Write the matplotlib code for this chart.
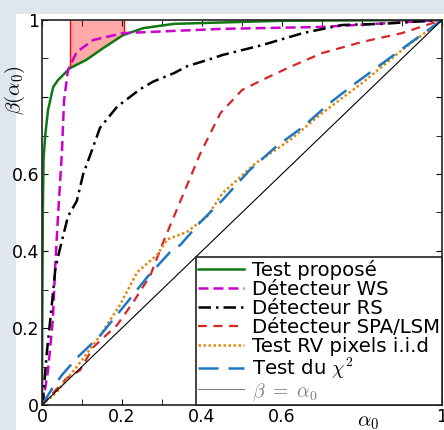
import numpy as np
import matplotlib
matplotlib.use('Agg')
import matplotlib.pyplot as plt
from matplotlib.patches import Rectangle

plt.rcParams['mathtext.fontset'] = 'cm'

# courbes ROC
x_prop = [0, 0.001, 0.002, 0.004, 0.008, 0.015, 0.028, 0.04, 0.07, 0.11, 0.153, 0.203, 0.254, 0.33, 0.43, 0.6, 1.0]
y_prop = [0, 0.3, 0.5, 0.64, 0.7, 0.766, 0.826, 0.844, 0.875, 0.896, 0.927, 0.961, 0.979, 0.99, 0.993, 0.998, 1.0]

x_ws = [0, 0.003, 0.015, 0.027, 0.033, 0.04, 0.05, 0.055, 0.065, 0.087, 0.128, 0.203, 0.45, 0.70, 1.0]
y_ws = [0, 0.01, 0.09, 0.22, 0.36, 0.49, 0.66, 0.79, 0.87, 0.917, 0.948, 0.966, 0.977, 0.982, 1.0]

x_rs = [0, 0.003, 0.012, 0.025, 0.033, 0.04, 0.053, 0.065, 0.087, 0.103, 0.125, 0.145, 0.188, 0.245, 0.278, 0.33, 0.363, 0.413, 0.451, 0.551, 0.652, 0.75, 0.85, 1.0]
y_rs = [0, 0.02, 0.135, 0.265, 0.35, 0.385, 0.44, 0.49, 0.53, 0.60, 0.662, 0.72, 0.775, 0.82, 0.84, 0.862, 0.88, 0.896, 0.909, 0.935, 0.966, 0.987, 0.99, 1.0]

x_spa = [0, 0.062, 0.095, 0.128, 0.188, 0.228, 0.271, 0.303, 0.33, 0.396, 0.446, 0.50, 0.55, 0.62, 0.70, 0.80, 0.90, 1.0]
y_spa = [0, 0.07, 0.09, 0.15, 0.208, 0.267, 0.337, 0.423, 0.49, 0.654, 0.758, 0.818, 0.844, 0.878, 0.914, 0.943, 0.966, 1.0]

x_rv = [0, 0.037, 0.095, 0.145, 0.195, 0.238, 0.288, 0.313, 0.363, 0.413, 0.451, 0.534, 0.62, 0.70, 0.80, 0.90, 1.0]
y_rv = [0, 0.034, 0.11, 0.18, 0.26, 0.345, 0.39, 0.43, 0.45, 0.49, 0.55, 0.628, 0.688, 0.758, 0.836, 0.922, 1.0]

x_chi = [0, 0.028, 0.05, 0.087, 0.145, 0.213, 0.263, 0.32, 0.346, 0.396, 0.451, 0.519, 0.584, 0.652, 0.719, 0.784, 0.852, 0.92, 1.0]
y_chi = [0, 0.047, 0.078, 0.122, 0.18, 0.267, 0.332, 0.397, 0.416, 0.475, 0.532, 0.61, 0.67, 0.722, 0.784, 0.836, 0.888, 0.94, 1.0]

zone = [0.07, 0.205]

fig = plt.figure(figsize=(4.44, 4.30), dpi=100)
fig.patch.set_facecolor('#dfe6ee')
fig.patches.append(Rectangle((16/444, 0), 1, (430-14)/430, transform=fig.transFigure,
                             facecolor='white', edgecolor='none', zorder=-1))
ax = fig.add_axes([42/444, 25/430, 400/444, 385/430])

# zone coloree entre la courbe proposee et 1
xs = np.linspace(zone[0], zone[1], 60)
ax.fill_between(xs, np.interp(xs, x_prop, y_prop), 1, color='#ff9a9a', alpha=0.85, lw=0, zorder=1)
ax.vlines(zone, np.interp(zone, x_prop, y_prop), 1, color='red', lw=1, zorder=1)

ax.plot(x_prop, y_prop, color='#117711', lw=1.8, label='Test proposé')
ax.plot(x_ws, y_ws, color='#cc00cc', lw=1.8, ls=(0, (4, 2)), label='Détecteur WS')
ax.plot(x_rs, y_rs, color='black', lw=1.8, ls=(0, (5, 2, 1, 2)), label='Détecteur RS')
ax.plot(x_spa, y_spa, color='#d62728', lw=1.6, ls=(0, (4, 3)), label='Détecteur SPA/LSM')
ax.plot(x_rv, y_rv, color='#e08a10', lw=1.8, ls=(0, (1, 1)), label='Test RV pixels i.i.d')
ax.plot(x_chi, y_chi, color='#1f77c4', lw=1.8, ls=(0, (8, 4)), label=r'Test du $\chi^2$')
ax.plot([0, 1], [0, 1], color='black', lw=0.8, label=r'$\beta\ =\ \alpha_0$')

ax.set_xlim(0, 1)
ax.set_ylim(0, 1)
ticks = [0, 0.2, 0.4, 0.6, 0.8, 1]
labels = ['0', '0.2', '0.4', '0.6', '', '1']
ax.set_xticks(ticks)
ax.set_xticklabels(labels)
ax.set_yticks(ticks)
ax.set_yticklabels(labels)
ax.set_xticks(np.arange(0.1, 1, 0.2), minor=True)
ax.set_yticks(np.arange(0.1, 1, 0.2), minor=True)
ax.tick_params(which='both', direction='in', top=True, right=True, labelsize=12.5, pad=2, length=4)
for s in ax.spines.values():
    s.set_color('#222222')
    s.set_linewidth(1.2)

fig.text(368/444, 1 - 422/430, r'$\alpha_0$', fontsize=15, ha='center', va='center')
fig.text(15/444, 1 - 90/430, r'$\beta(\alpha_0)$', fontsize=15, ha='center', va='center', rotation=90)

leg = ax.legend(loc='lower right', bbox_to_anchor=(1, 0), borderaxespad=0, fontsize=14.2,
                labelspacing=0.0, handlelength=2.3, handletextpad=0.4, borderpad=0.12,
                fancybox=False, framealpha=1, edgecolor='#222222')
leg.get_frame().set_linewidth(1.2)
leg.get_lines()[-1].set_color('gray')
leg.get_texts()[-1].set_color('gray')

fig.savefig('out.png', dpi=100, facecolor=fig.get_facecolor())
